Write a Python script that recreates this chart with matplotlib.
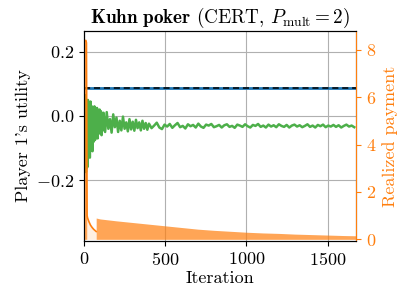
import numpy as np
import matplotlib
matplotlib.use("Agg")
import matplotlib.pyplot as plt

plt.rcParams['font.family'] = 'serif'
plt.rcParams['font.serif'] = ['cmr10']
plt.rcParams['mathtext.fontset'] = 'cm'
plt.rcParams['axes.formatter.use_mathtext'] = True
plt.rcParams['font.size'] = 13

# utilidade do jogador 1 (ruidosa) lida a olho
it_util = list(range(0, 120, 4)) + list(range(120, 400, 10)) + list(range(400, 1680, 16))
util = [0.06, -0.1, 0.065, -0.175, 0.04, -0.16, 0.05, -0.12, 0.0, -0.13,
        0.045, -0.09, 0.03, -0.11, -0.01, -0.08, 0.03, -0.075, 0.02, -0.06,
        0.025, -0.07, 0.0, -0.055, 0.02, -0.05, 0.015, -0.06, -0.005, -0.045,
        0.01, -0.05, 0.012, -0.04, -0.01, -0.052, 0.005, -0.035, -0.005, -0.05,
        -0.015, -0.045, -0.002, -0.04, -0.02, -0.048, -0.01, -0.042, -0.018, -0.046,
        -0.012, -0.038, -0.02, -0.045, -0.015, -0.04, -0.022, -0.043,
        -0.024, -0.038, -0.03, -0.021, -0.036, -0.041, -0.027, -0.033, -0.025, -0.037,
        -0.029, -0.022, -0.035, -0.031, -0.039, -0.026, -0.032, -0.028, -0.036, -0.024,
        -0.033, -0.037, -0.027, -0.03, -0.025, -0.035, -0.032, -0.028, -0.036, -0.029,
        -0.026, -0.034, -0.031, -0.037, -0.027, -0.03, -0.034, -0.026, -0.032, -0.036,
        -0.028, -0.031, -0.025, -0.034, -0.03, -0.036, -0.027, -0.033, -0.029, -0.035,
        -0.026, -0.031, -0.034, -0.028, -0.036, -0.03, -0.027, -0.033, -0.029, -0.035,
        -0.031, -0.026, -0.034, -0.03, -0.036, -0.028, -0.032, -0.027, -0.035, -0.03,
        -0.033, -0.028, -0.034, -0.029, -0.036, -0.031, -0.027, -0.033, -0.03, -0.035]

# valor de referencia (equilibrio) e valor do CERT
eq_value = 0.087
it_eq = [0, 1675]

# pagamento realizado: pico inicial e depois o envelope
spike_it = [0, 3, 6, 9, 12, 15, 17, 19, 22, 30, 40, 50, 60, 70, 75]
spike_pay = [8.4, 8.4, 8.4, 8.4, 8.4, 8.3, 4.0, 1.0, 0.9, 0.75, 0.6, 0.5, 0.42, 0.36, 0.33]
pay_it = [75, 100, 200, 300, 400, 500, 600, 700, 800, 900, 1000, 1100, 1200, 1300, 1400, 1500, 1600, 1675]
pay = [0.9, 0.86, 0.78, 0.71, 0.64, 0.57, 0.50, 0.43, 0.38, 0.34, 0.30, 0.27, 0.25, 0.22, 0.20, 0.18, 0.16, 0.15]

fig = plt.figure(figsize=(4, 2.97), dpi=100)
ax = fig.add_axes([0.21, 0.1886, 0.68, 0.707])
ax.grid(True, color='#b0b0b0', lw=0.8)
ax.set_axisbelow(True)

ax.plot(it_util, util, color='#4daf4a', lw=1.8)
ax.plot(it_eq, [eq_value, eq_value], color='tab:blue', lw=2)
ax.plot(it_eq, [eq_value, eq_value], color='k', lw=1.1, ls=(0, (4, 2.5)))

ax.set_xlim(0, 1675)
ax.set_ylim(-0.39, 0.265)
ax.set_yticks([-0.2, 0.0, 0.2])
ax.set_xticks([0, 500, 1000, 1500])
ax.set_xlabel("Iteration", labelpad=2)
ax.set_ylabel("Player 1's utility", labelpad=4)
ax.set_title(r"$\bf{Kuhn\ poker}$ (CERT, $P_{\rm mult}=2$)", fontsize=13.8)

ax2 = ax.twinx()
sp = np.array(spike_pay)
si = np.array(spike_it)
ax2.fill_between(si[si <= 17], 0, sp[si <= 17], color='tab:orange', alpha=0.7, lw=0)
ax2.fill_between(si[si >= 17], 0, sp[si >= 17], color='tab:orange', alpha=0.12, lw=0)
ax2.plot(spike_it, spike_pay, color='tab:orange', lw=1.2)
ax2.fill_between(pay_it, 0, pay, color='tab:orange', alpha=0.7, lw=0)
ax2.set_ylim(-0.07, 8.8)
ax2.set_yticks([0, 2, 4, 6, 8])
ax2.set_ylabel("Realized payment", color='tab:orange')
ax2.tick_params(axis='y', colors='tab:orange')
ax2.spines['right'].set_color('tab:orange')

fig.savefig("out.png", dpi=100)
